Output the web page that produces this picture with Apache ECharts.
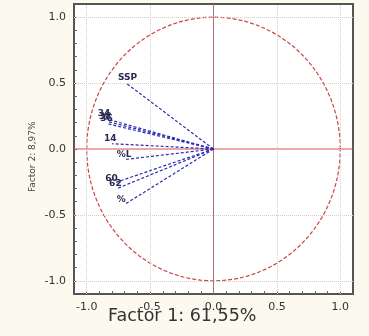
<!DOCTYPE html>
<html>
<head>
<meta charset="utf-8">
<script src="https://cdn.jsdelivr.net/npm/echarts@6/dist/echarts.min.js"></script>
<style>
html,body{margin:0;padding:0;background:#fcf9ef;}
#chart{width:369px;height:336px;}
</style>
</head>
<body>
<div id="chart"></div>
<script>
// variable loadings on factor 1 / factor 2
const varNames=["SSP","34","38","36","14","%L","60","62","%"];
const factor1=[-0.69,-0.85,-0.84,-0.83,-0.80,-0.70,-0.79,-0.76,-0.70];
const factor2=[0.50,0.23,0.21,0.19,0.04,-0.08,-0.26,-0.30,-0.42];
const tickValues=[-1.0,-0.5,0.0,0.5,1.0];
const minorTicks=[-1,-0.9,-0.8,-0.7,-0.6,-0.5,-0.4,-0.3,-0.2,-0.1,0,0.1,0.2,0.3,0.4,0.5,0.6,0.7,0.8,0.9,1];
const axisMin=-1.1;
const axisMax=1.1;

const chart=echarts.init(document.getElementById("chart"));

// unit circle of correlations
const circle=[];
for(let a=0;a<=360;a+=3){
    const r=a*Math.PI/180;
    circle.push([Math.cos(r),Math.sin(r)]);
}

const vectorSeries=varNames.map((name,i)=>({
    type:"line",
    name:name,
    data:[[0,0],[factor1[i],factor2[i]]],
    symbol:"none",
    silent:true,
    lineStyle:{color:"#2b2bb5",width:1.2,type:[3,2]},
    endLabel:{
        show:true,
        formatter:name,
        color:"#2a2a55",
        fontSize:9,
        fontWeight:"bold",
        fontFamily:"DejaVu Sans",
        offset:[-16,-5]
    },
    z:5
}));

const gridLines=tickValues.filter(v=>v!==0);

function axisCommon(){
    return {
        type:"value",
        min:axisMin,
        max:axisMax,
        axisLine:{show:true,onZero:false,lineStyle:{color:"#555",width:2}},
        axisTick:{show:true,inside:true,customValues:minorTicks,length:3,lineStyle:{color:"#666"}},
        axisLabel:{
            customValues:tickValues,
            formatter:v=>v.toFixed(1),
            color:"#333",
            fontSize:11,
            fontFamily:"DejaVu Sans",
            margin:8
        },
        splitLine:{show:false}
    };
}

chart.setOption({
    backgroundColor:"#fcf9ef",
    animation:false,
    grid:{left:74,right:16,top:4,bottom:42,show:true,backgroundColor:"#ffffff",borderColor:"#555",borderWidth:2},
    xAxis:axisCommon(),
    yAxis:axisCommon(),
    graphic:[
        {
            type:"text",
            left:108,
            top:307,
            style:{text:"Factor 1: 61,55%",fontSize:17.5,fill:"#333",fontFamily:"DejaVu Sans"}
        },
        {
            type:"text",
            rotation:Math.PI/2,
            x:28,
            y:192,
            style:{text:"Factor 2: 8,97%",fontSize:9,fill:"#444",fontFamily:"DejaVu Sans"}
        }
    ],
    series:[
        {
            type:"line",
            data:circle,
            symbol:"none",
            silent:true,
            lineStyle:{color:"#cc4444",width:1.2,type:[4,2]},
            markLine:{
                silent:true,
                symbol:"none",
                label:{show:false},
                lineStyle:{color:"#d0d0d0",width:1,type:"dotted"},
                data:gridLines.map(v=>({xAxis:v})).concat(gridLines.map(v=>({yAxis:v})))
            },
            z:3
        },
        {
            type:"line",
            data:[[axisMin,0],[axisMax,0]],
            symbol:"none",
            silent:true,
            lineStyle:{color:"#d85050",width:1,type:"solid"},
            z:4
        },
        {
            type:"line",
            data:[[0,axisMin],[0,axisMax]],
            symbol:"none",
            silent:true,
            lineStyle:{color:"#b07070",width:1,type:"solid"},
            z:4
        }
    ].concat(vectorSeries)
});
</script>
</body>
</html>
